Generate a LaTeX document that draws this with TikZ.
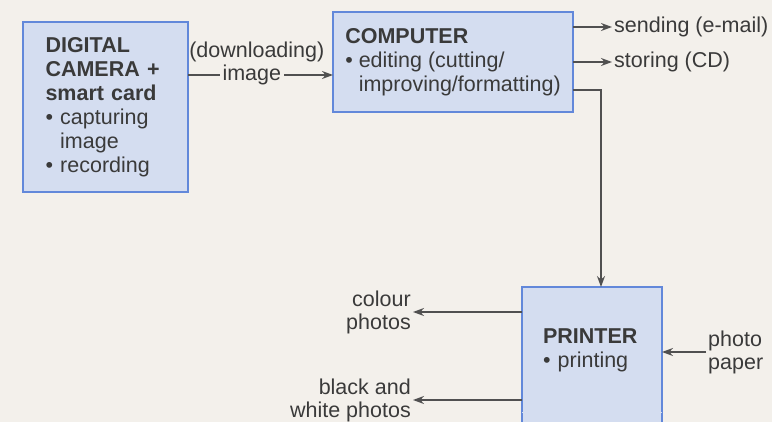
\documentclass[tikz,border=0pt]{standalone}
\usepackage{fontspec}
\setmainfont{Liberation Sans}
\usetikzlibrary{arrows.meta, positioning}
\definecolor{pagecream}{RGB}{243, 240, 235}
\definecolor{boxblue}{RGB}{212, 221, 240}
\definecolor{edgeblue}{RGB}{98, 136, 218}
\definecolor{inkgrey}{RGB}{58, 58, 58}
\definecolor{arrowgrey}{RGB}{80, 80, 80}
\newcommand{\bul}{\textbullet\ }
\newcommand{\ind}{\hphantom{\textbullet\ }}

\begin{document}
\begin{tikzpicture}[x=1pt, y=-1pt,
    devicebox/.style={rectangle, draw=edgeblue, fill=boxblue, line width=1.6pt, outer sep=0pt, align=left, text=inkgrey, font=\fontsize{21.5}{24}\selectfont},
    flowlabel/.style={text=inkgrey, inner sep=2pt, font=\fontsize{21.5}{23}\selectfont},
    arrow/.style={-{Stealth[length=11pt, width=8pt]}, line width=1.3pt, arrowgrey}
]
    \useasboundingbox (0,0) rectangle (772,422);
    \clip (0,0) rectangle (772,422);
    \fill[pagecream] (0,0) rectangle (772,422);

    % Devices
    \node[devicebox, minimum width=165pt, minimum height=170pt, text width=120pt] (camera) at (105.5,107) {\textbf{DIGITAL}\\\textbf{CAMERA +}\\\textbf{smart card}\\\bul capturing\\\ind image\\\bul recording};
    \node[devicebox, minimum width=240pt, minimum height=100pt] (computer) at (453,62) {\textbf{COMPUTER}\\\bul editing (cutting/\\\ind improving/formatting)};
    \node[devicebox, minimum width=140pt, minimum height=126pt, text width=98pt] (printer) at (592,350) {\textbf{PRINTER}\\\bul printing};
    % printer box runs on past the page edge
    \fill[boxblue] ([yshift=1pt]printer.south west) rectangle ([yshift=-20pt]printer.south east);
    \draw[edgeblue, line width=1.6pt] (printer.south west) -- ++(0,20);
    \draw[edgeblue, line width=1.6pt] (printer.south east) -- ++(0,20);

    % Outputs and inputs
    \node[flowlabel, anchor=west] (sending) at (612,27) {sending (e-mail)};
    \node[flowlabel, anchor=west] (storing) at (612,62) {storing (CD)};
    \node[flowlabel, anchor=east, align=right] (colour) at (413,312) {colour\\photos};
    \node[flowlabel, anchor=east, align=right] (bwphotos) at (413,400) {black and\\white photos};
    \node[flowlabel, anchor=west, align=left] (paper) at (706,352) {photo\\paper};

    % Arrows
    \draw[arrow] ([yshift=32pt]camera.east) -- node[flowlabel, pos=0.44, fill=pagecream, inner xsep=3pt, label={[flowlabel, xshift=5pt, yshift=-2pt]above:(downloading)}] (dlimage) {image} ([yshift=32pt]camera.east -| computer.west);
    \draw[arrow] (sending.west -| computer.east) -- (sending.west);
    \draw[arrow] (storing.west -| computer.east) -- (storing.west);
    \draw[arrow] ([yshift=-28pt]computer.east) -| ([xshift=9pt]printer.north);
    \draw[arrow] (printer.west |- colour.east) -- (colour.east);
    \draw[arrow] (printer.west |- bwphotos.east) -- (bwphotos.east);
    \draw[arrow] (paper.west) -- (paper.west -| printer.east);
\end{tikzpicture}
\end{document}
